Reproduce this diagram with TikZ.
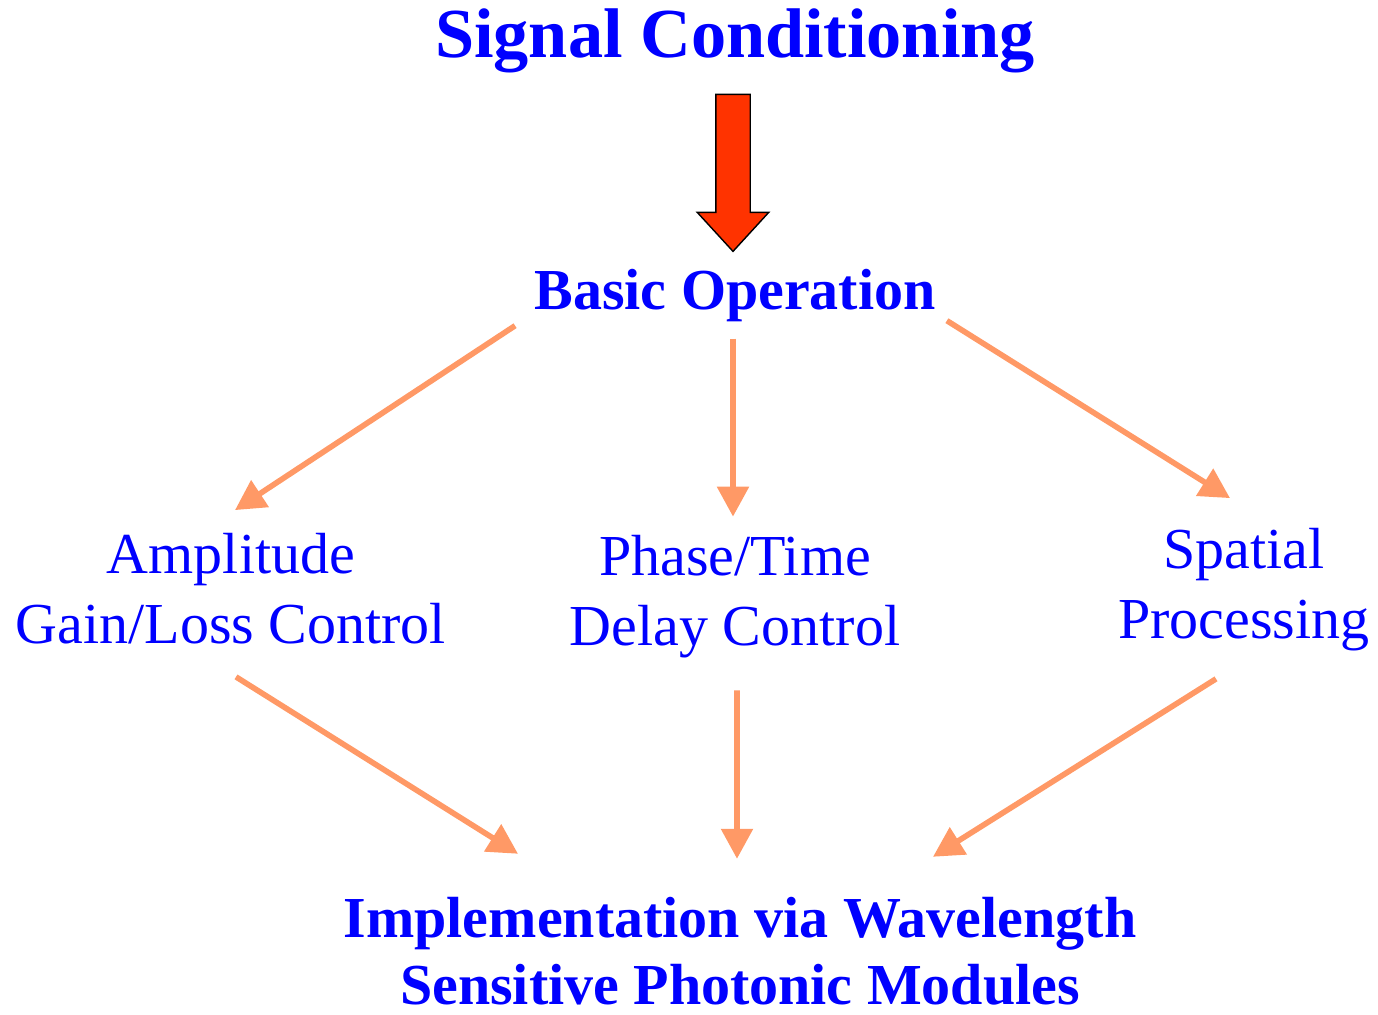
\documentclass[tikz,border=0pt]{standalone}
\usepackage{fontspec}
\setmainfont{Liberation Serif}
\usepackage{xcolor}
\usepackage{tikz}
\usetikzlibrary{shapes,arrows.meta,positioning}

\definecolor{txtblue}{RGB}{0,0,255}
\definecolor{flowor}{RGB}{255,153,102}
\definecolor{arrred}{RGB}{255,51,0}

\begin{document}
\begin{tikzpicture}[
        heading/.style={text=txtblue, inner sep=0pt, font=\fontsize{40}{48}\selectfont\bfseries},
        stage/.style={text=txtblue, inner sep=0pt, align=center, font=\fontsize{33}{40}\selectfont\bfseries},
        branch/.style={text=txtblue, inner sep=0pt, align=center, font=\fontsize{33}{40}\selectfont},
        final/.style={text=txtblue, inner sep=0pt, align=center, font=\fontsize{33}{38}\selectfont\bfseries},
        bigarrow/.style={single arrow, draw=black, fill=arrred, line width=0.8pt, minimum height=3.14cm, minimum width=1.4cm, single arrow head extend=0.37cm, single arrow tip angle=85, single arrow head indent=0pt, inner xsep=0pt, inner ysep=0.33cm, rotate=-90},
        arrow/.style={draw=flowor, line width=3.2pt, -{Triangle[length=0.6cm, width=0.62cm]}}
    ]
        \useasboundingbox (0,0) rectangle (27.56,20.3);

        % Title
        \node[heading, anchor=base] (title) at (14.7,19.14) {Signal Conditioning};

        % Big red arrow
        \node[bigarrow] (down) at (14.66,17.03) {};

        % Basic operation
        \node[stage, anchor=base] (basic) at (14.7,14.1) {Basic Operation};

        % Three branches
        \node[branch] (amp) at (4.62,8.52) {Amplitude\\Gain/Loss Control};
        \node[branch] (phase) at (14.7,8.37) {Phase/Time\\Delay Control};
        \node[branch] (spatial) at (24.88,8.5) {Spatial\\Processing};

        % Implementation
        \node[final] (impl) at (14.8,1.28) {Implementation via Wavelength\\Sensitive Photonic Modules};

        % Connections from basic operation
        \draw[arrow] ([xshift=-0.38cm, yshift=-0.06cm]basic.south west) -- ([xshift=0.08cm, yshift=0.46cm]amp.north);
        \draw[arrow] ([xshift=-0.04cm, yshift=-0.32cm]basic.south) -- ([xshift=-0.04cm, yshift=0.36cm]phase.north);
        \draw[arrow] ([xshift=0.22cm, yshift=0.04cm]basic.south east) -- ([xshift=-0.28cm, yshift=0.6cm]spatial.north);

        % Connections to implementation
        \draw[arrow] ([xshift=0.1cm, yshift=-0.64cm]amp.south) -- ([xshift=-4.44cm, yshift=0.86cm]impl.north);
        \draw[arrow] ([xshift=0.04cm, yshift=-0.64cm]phase.south) -- ([xshift=-0.06cm, yshift=0.76cm]impl.north);
        \draw[arrow] ([xshift=-0.56cm, yshift=-0.54cm]spatial.south) -- ([xshift=3.86cm, yshift=0.8cm]impl.north);
    \end{tikzpicture}
\end{document}
